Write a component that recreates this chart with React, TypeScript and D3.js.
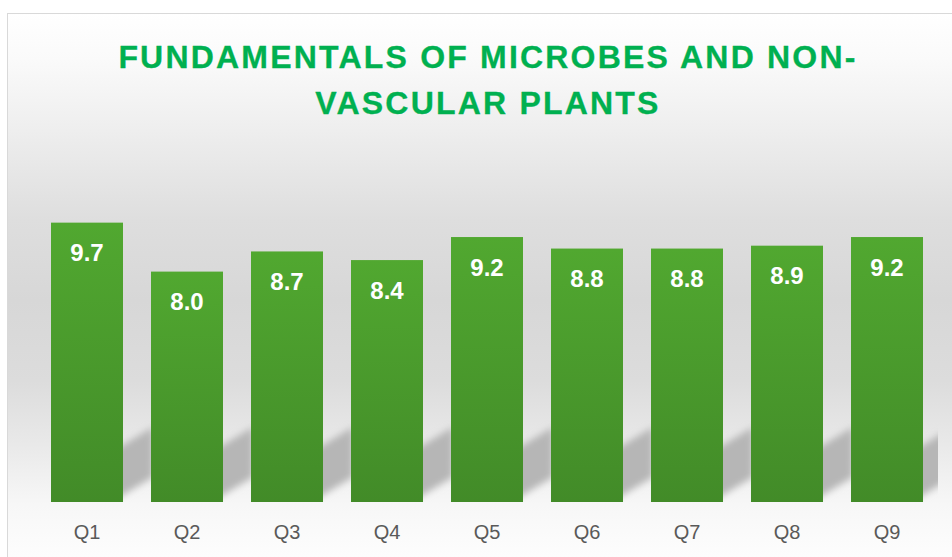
import React from "react";
import * as d3 from "d3";

const categories = ["Q1", "Q2", "Q3", "Q4", "Q5", "Q6", "Q7", "Q8", "Q9"];
const values = [9.7, 8.0, 8.7, 8.4, 9.2, 8.8, 8.8, 8.9, 9.2];
const titleLines = ["FUNDAMENTALS OF MICROBES AND NON-", "VASCULAR PLANTS"];

const W = 952;
const H = 557;
const FONT = "'Liberation Sans', Arial, Helvetica, sans-serif";

export default function App() {
  const x = d3
    .scaleBand<string>()
    .domain(categories)
    .range([37, 937])
    .paddingInner(0.28)
    .paddingOuter(0.14);
  const y = d3.scaleLinear().domain([0, 12]).range([502, 156.4]);
  const y0 = y(0);

  const bgStops: [number, string][] = [
    [0, "#ffffff"],
    [0.086, "#fafafa"],
    [0.215, "#eeeeee"],
    [0.38, "#dedede"],
    [0.528, "#d7d7d7"],
    [0.676, "#dcdcdc"],
    [0.785, "#e8e8e8"],
    [0.904, "#f7f7f7"],
    [1, "#fdfdfd"],
  ];

  return (
    <svg
      width={W}
      height={H}
      style={{ position: "absolute", left: 0, top: 0, display: "block" }}
    >
      <defs>
        <linearGradient id="bg" gradientUnits="userSpaceOnUse" x1="0" y1="13" x2="0" y2="557">
          {bgStops.map(([o, c], i) => (
            <stop key={i} offset={o} stopColor={c} />
          ))}
        </linearGradient>
        <linearGradient id="barGrad" x1="0" y1="0" x2="0" y2="1">
          <stop offset="0" stopColor="#51a830" />
          <stop offset="1" stopColor="#428b28" />
        </linearGradient>
        <filter id="blur" x="-50%" y="-50%" width="200%" height="200%">
          <feGaussianBlur stdDeviation="3.5" />
        </filter>
        <clipPath id="plotClip">
          <rect x={37} y={0} width={901} height={y0} />
        </clipPath>
      </defs>

      <rect x={0} y={0} width={W} height={H} fill="#ffffff" />
      <rect x={7.5} y={13.5} width={980} height={600} fill="url(#bg)" stroke="#d9d9d9" strokeWidth={1} />

      {/* title */}
      {titleLines.map((t, i) => (
        <text
          key={i}
          x={488}
          y={68 + i * 46}
          textAnchor="middle"
          fill="#00b050"
          fontFamily={FONT}
          fontWeight="bold"
          fontSize={32}
          letterSpacing={2.2}
          stroke="#00b050"
          strokeWidth={0.3}
        >
          {t}
        </text>
      ))}

      {/* shadows */}
      <g clipPath="url(#plotClip)">
        {categories.map((c) => {
          const r = (x(c) as number) + x.bandwidth();
          const pts = [
            [r - 12, y0],
            [r + 30, y0 - 25],
            [r + 30, y0 - 75],
            [r - 12, y0 - 50],
          ];
          return (
            <polygon
              key={c}
              points={pts.map((p) => p.join(",")).join(" ")}
              fill="#b6b6b6"
              filter="url(#blur)"
            />
          );
        })}
      </g>

      {/* bars */}
      {categories.map((c, i) => (
        <rect
          key={c}
          x={x(c)}
          y={y(values[i])}
          width={x.bandwidth()}
          height={y0 - y(values[i])}
          fill="url(#barGrad)"
        />
      ))}

      {/* data labels */}
      {categories.map((c, i) => (
        <text
          key={c}
          x={(x(c) as number) + x.bandwidth() / 2}
          y={y(values[i]) + 38.5}
          textAnchor="middle"
          fill="#ffffff"
          fontFamily={FONT}
          fontWeight="bold"
          fontSize={24}
        >
          {values[i].toFixed(1)}
        </text>
      ))}

      {/* category labels */}
      {categories.map((c) => (
        <text
          key={c}
          x={(x(c) as number) + x.bandwidth() / 2}
          y={539}
          textAnchor="middle"
          fill="#595959"
          fontFamily={FONT}
          fontSize={20}
        >
          {c}
        </text>
      ))}
    </svg>
  );
}
